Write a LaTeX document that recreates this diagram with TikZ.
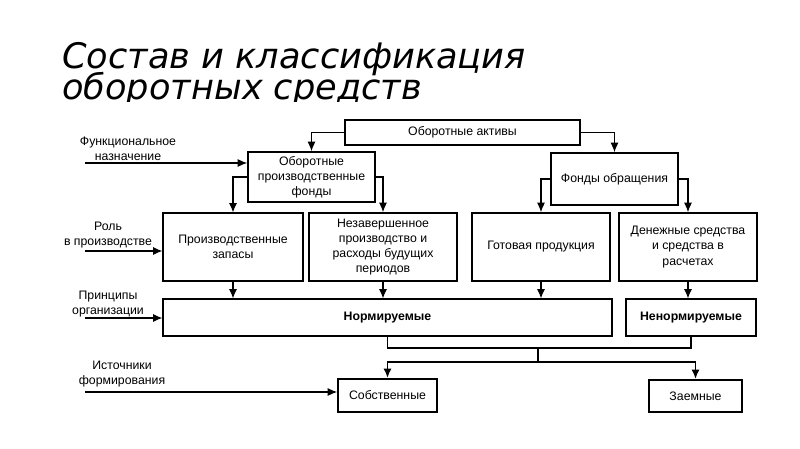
\documentclass[tikz,border=0pt]{standalone}
\usepackage{fontspec}
\setmainfont{Liberation Sans}
\newfontfamily\titlefont{DejaVu Sans}
\usetikzlibrary{positioning,arrows.meta}

\begin{document}
\begin{tikzpicture}[x=0.03cm, y=-0.03cm, font=\fontsize{10.5}{13}\selectfont]
				\useasboundingbox (0,0) rectangle (800,449);
				
				% ---- заголовок (вторая строка обрезана снизу) ----
				\tikzset{ttl/.style={anchor=base west, inner sep=0pt,
						font=\titlefont\itshape\fontsize{30}{30}\selectfont}}
				\node[ttl] (title1) at (62,69) {Состав и классификация};
				\begin{scope}
					\clip (0,0) rectangle (800,101);
					\node[ttl] (title2) at (62,99) {оборотных средств};
				\end{scope}
				
				% ---- стили ----
				\tikzset{box/.style={draw, line width=0.9pt, inner sep=0pt, align=center},
					boxb/.style={box, line width=1.6pt},
					rect/.style 2 args={minimum width=#1*0.03cm, minimum height=#2*0.03cm},
					arr/.style={-{Latex[length=2.8mm,width=2.4mm]}, line width=0.9pt},
					bus/.style={line width=1.6pt},
					lbl/.style={align=center, inner sep=0pt}}
				
				% ---- блоки ----
				\node[boxb, rect={235}{25}] (aktivy) at (462.5,132.5) {Оборотные активы};
				\node[boxb, rect={127}{50}] (opf) at (311.5,177) {Оборотные\\производственные\\фонды};
				\node[boxb, rect={127}{52}] (fo) at (614.5,179) {Фонды обращения};
				
				\node[box, rect={140}{68}] (zapasy) at (233,247) {Производственные\\запасы};
				\node[boxb, rect={148}{68}] (nzp) at (383,247) {Незавершенное\\производство и\\расходы будущих\\периодов};
				\node[boxb, rect={138}{68}] (gp) at (541,247) {Готовая продукция};
				\node[boxb, rect={138}{68}] (ds) at (688,247) {Денежные средства\\и средства в\\расчетах};
				
				\node[box, rect={449}{37}] (norm) at (387.5,317.5) {\bfseries Нормируемые};
				\node[box, rect={130}{37}] (nenorm) at (691,317.5) {\bfseries Ненормируемые};
				
				\node[boxb, rect={99}{33}] (sobst) at (387.5,395.5) {Собственные};
				\node[boxb, rect={93}{32}] (zaem) at (695.5,396) {Заемные};
				
				% ---- стрелки между блоками ----
				\draw[arr] (aktivy.west) -| (opf.north);
				\draw[arr] (aktivy.east) -| (fo.north);
				\draw[arr] (opf.west) -| (zapasy.north);
				\draw[arr] (opf.east) -| (nzp.north);
				\draw[arr] (fo.west) -| (gp.north);
				\draw[arr] (fo.east) -| (ds.north);
				
				\draw[arr] (zapasy.south) -- (zapasy.south |- norm.north);
				\draw[arr] (nzp.south) -- (nzp.south |- norm.north);
				\draw[arr] (gp.south) -- (gp.south |- norm.north);
				\draw[arr] (ds.south) -- (ds.south |- nenorm.north);
				
				% ---- источники формирования ----
				\coordinate (sv1) at (538,348);
				\coordinate (sv2) at (538,362);
				\draw[bus] (norm.south) |- (sv1) -| (nenorm.south);
				\draw[line width=0.9pt] (sv1) -- (sv2);
				\draw[arr, bus] (sv2) -| (sobst.north);
				\draw[arr, bus] (sv2) -| (zaem.north);
				
				% ---- признаки классификации слева ----
				\node[lbl] (funk) at (128,149) {Функциональное\\назначение};
				\node[lbl] (rol) at (108,235) {Роль\\в производстве};
				\node[lbl] (princ) at (108,304) {Принципы\\организации};
				\node[lbl] (ist) at (122,374) {Источники\\формирования};
				
				\coordinate (funk0) at (85,163);
				\coordinate (rol0) at (85,251);
				\coordinate (princ0) at (85,318);
				\coordinate (ist0) at (85,392);
				\draw[arr] (funk0) -- (funk0 -| opf.west);
				\draw[arr] (rol0) -- (rol0 -| zapasy.west);
				\draw[arr] (princ0) -- (princ0 -| norm.west);
				\draw[arr] (ist0) -- (ist0 -| sobst.west);
			\end{tikzpicture}
\end{document}
